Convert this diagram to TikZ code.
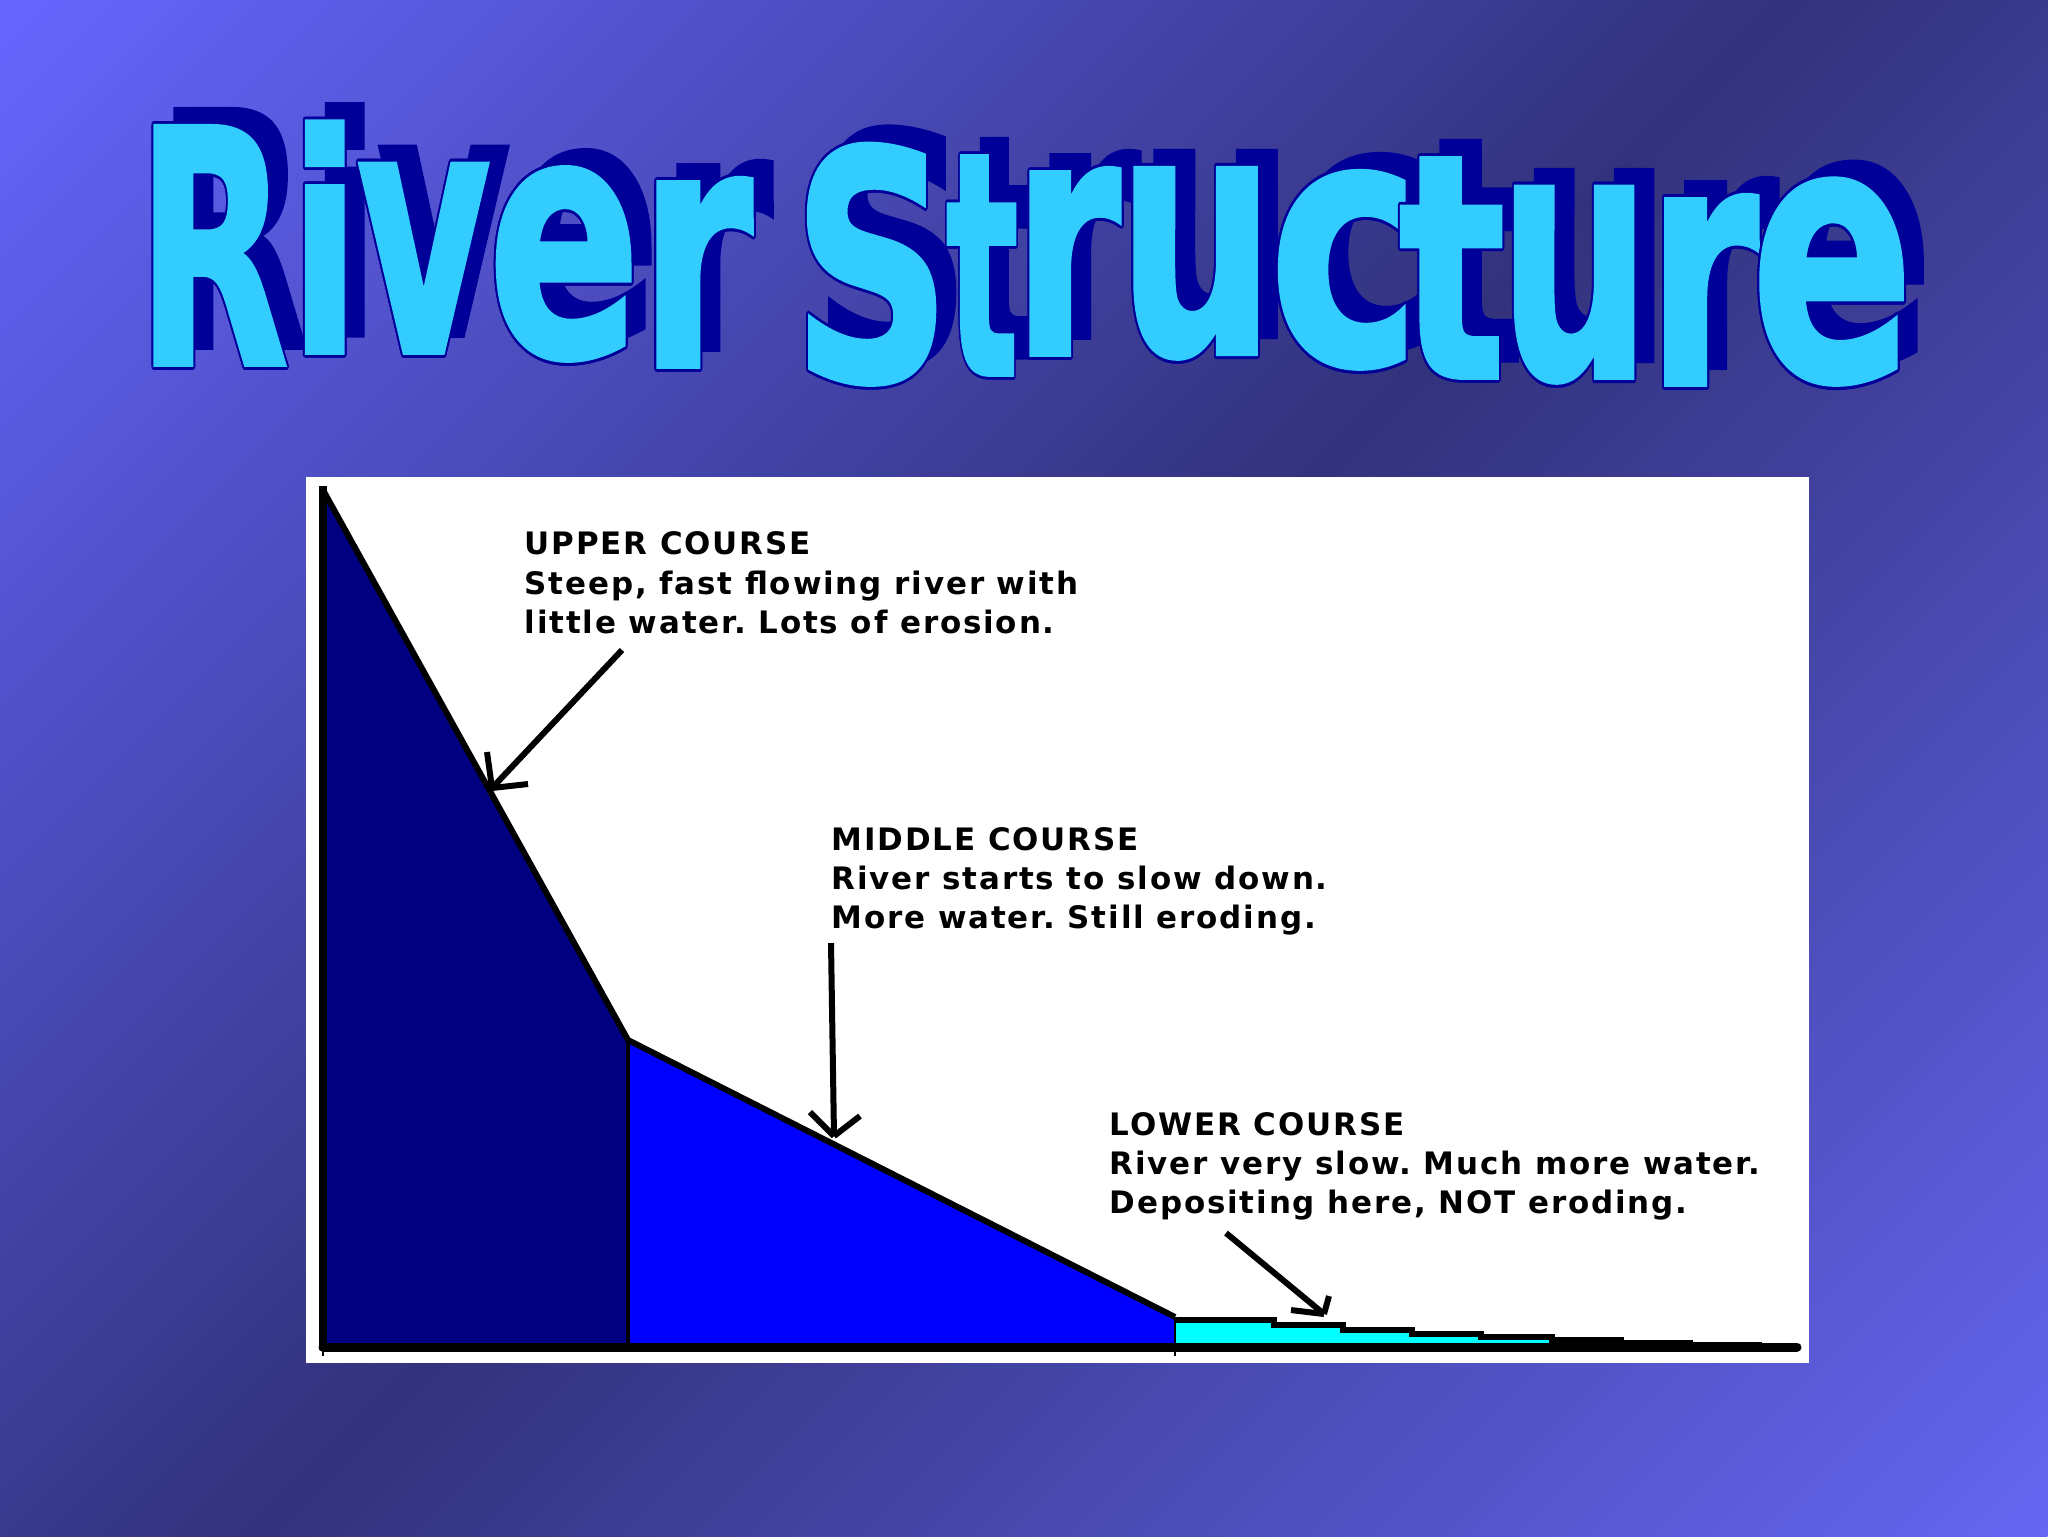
\documentclass[tikz,border=0pt]{standalone}
\usepackage{fontspec}
\usepackage{graphicx}
\usepackage{contour}
\setmainfont{DejaVu Sans}
\newfontfamily\labelfamily{DejaVu Sans Bold}[LetterSpace=6]
\newfontfamily\titlefamily{DejaVu Sans Bold}[FakeBold=1.5]
\contourlength{0.8pt}
\frenchspacing
\definecolor{bglight}{HTML}{6666FF}
\definecolor{bgdark}{HTML}{32327C}
\definecolor{bglighttwo}{HTML}{6666F2}
\definecolor{tcyan}{HTML}{33CCFF}
\definecolor{tnavy}{HTML}{000099}
\definecolor{uppercol}{HTML}{000080}
\definecolor{middlecol}{HTML}{0000FF}
\definecolor{lowercol}{HTML}{00FFFF}
\newcommand\titlefont{\titlefamily\fontsize{90}{90}\selectfont}
\newcommand\shadowletter[5]{%
  \node[inner sep=0, anchor=south west, text=tnavy] (sh#5) at (#1+20,#4-20)
    {\resizebox{\dimexpr 0.1mm*(#2-#1)\relax}{\dimexpr 0.1mm*(#4-#3)\relax}{\titlefont #5}};}
\newcommand\lightletter[5]{%
  \node[inner sep=0, anchor=south west] (lt#5) at (#1,#4)
    {\resizebox{\dimexpr 0.1mm*(#2-#1)\relax}{\dimexpr 0.1mm*(#4-#3)\relax}{\color{tcyan}\contour{tnavy}{\titlefont #5}}};}
\tikzset{
  lbl/.style={anchor=base west, align=left, inner sep=0, text=black,
    font=\labelfamily\fontsize{8.8}{11.1}\selectfont},
  arr/.style={draw=black, line width=0.6mm, line cap=square},
  edge/.style={draw=black, line width=0.6mm, line join=round},
}
\begin{document}
\begin{tikzpicture}[x=0.1mm,y=-0.1mm]
\useasboundingbox (0,0) rectangle (2048,1536);
% background
\begin{scope}
  \clip (0,0) rectangle (2048,1536);
  \begin{scope}[transform canvas={shift={(102.4mm,-76.8mm)}, rotate=-45}]
    \shade[left color=bglight, right color=bglighttwo, middle color=bgdark]
      (-126.7mm,-135mm) rectangle (126.7mm,135mm);
  \end{scope}
\end{scope}
% title shadows
\shadowletter{136}{288}{130}{368}{R}
\shadowletter{288}{360}{125}{356}{i}
\shadowletter{356}{490}{168}{356}{v}
\shadowletter{487}{640}{176}{364}{e}
\shadowletter{638}{752}{182}{370}{r}
\shadowletter{792}{950}{152}{388}{S}
\shadowletter{945}{1018}{160}{378}{t}
\shadowletter{1012}{1120}{172}{358}{r}
\shadowletter{1117}{1274}{177}{362}{u}
\shadowletter{1268}{1420}{180}{372}{c}
\shadowletter{1398}{1505}{162}{381}{t}
\shadowletter{1498}{1650}{196}{386}{u}
\shadowletter{1646}{1758}{199}{388}{r}
\shadowletter{1750}{1913}{188}{388}{e}
% title letters
\lightletter{136}{288}{130}{368}{R}
\lightletter{288}{360}{125}{356}{i}
\lightletter{356}{490}{168}{356}{v}
\lightletter{487}{640}{176}{364}{e}
\lightletter{638}{752}{182}{370}{r}
\lightletter{792}{950}{152}{388}{S}
\lightletter{945}{1018}{160}{378}{t}
\lightletter{1012}{1120}{172}{358}{r}
\lightletter{1117}{1274}{177}{362}{u}
\lightletter{1268}{1420}{180}{372}{c}
\lightletter{1398}{1505}{162}{381}{t}
\lightletter{1498}{1650}{196}{386}{u}
\lightletter{1646}{1758}{199}{388}{r}
\lightletter{1750}{1913}{188}{388}{e}
% panel
\fill[white] (306,477) rectangle (1809,1363);
% regions
\fill[uppercol] (323,490) -- (628,1040) -- (628,1347) -- (323,1347) -- cycle;
\fill[middlecol] (628,1040) -- (1175,1317) -- (1175,1347) -- (628,1347) -- cycle;
\fill[lowercol] (1175,1320) -- (1274,1320) -- (1274,1325) -- (1343,1325) -- (1343,1330)
  -- (1412,1330) -- (1412,1334) -- (1481,1334) -- (1481,1337) -- (1552,1337)
  -- (1552,1340) -- (1621,1340) -- (1621,1347) -- (1175,1347) -- cycle;
% outlines
\draw[edge] (323,490) -- (628,1040) -- (1175,1317);
\draw[black, line width=0.55mm] (1175,1320) -- (1274,1320) -- (1274,1325) -- (1343,1325) -- (1343,1330)
  -- (1412,1330) -- (1412,1334) -- (1481,1334) -- (1481,1337) -- (1552,1337)
  -- (1552,1340) -- (1621,1340) -- (1621,1343) -- (1690,1343) -- (1690,1345) -- (1762,1345);
\draw[black, line width=0.4mm] (628,1040) -- (628,1347);
\draw[black, line width=0.25mm] (1175,1317) -- (1175,1356);
\draw[black, line width=0.25mm] (323,1347) -- (323,1356);
\draw[black, line width=0.75mm] (323,486) -- (323,1350);
\draw[black, line width=0.9mm, line cap=round] (323,1347) -- (1797,1347);
% labels (anchor is the baseline of the last line)
\node[lbl] (upper) at (524,633) {UPPER COURSE\\Steep, fast flowing river with\\little water. Lots of erosion.};
\node[lbl] (middle) at (831,928) {MIDDLE COURSE\\River starts to slow down.\\More water. Still eroding.};
\node[lbl] (lower) at (1109,1213) {LOWER COURSE\\River very slow. Much more water.\\Depositing here, NOT eroding.};
% arrows
\coordinate (ua) at (622,650);
\coordinate (ut) at (492,788);
\draw[arr] (ua) -- (ut);
\draw[arr] (ut) -- ++(-5,-36);
\draw[arr] (ut) -- ++(36,-4);
\coordinate (ma) at (831,943);
\coordinate (mt) at (834,1136);
\draw[arr] (ma) -- (mt);
\draw[arr] (mt) -- ++(-24,-24);
\draw[arr] (mt) -- ++(26,-20);
\coordinate (la) at (1226,1233);
\coordinate (lt) at (1324,1314);
\draw[arr] (la) -- (lt);
\draw[arr] (lt) -- ++(5,-18);
\draw[arr] (lt) -- ++(-33,-4);
\end{tikzpicture}
\end{document}
